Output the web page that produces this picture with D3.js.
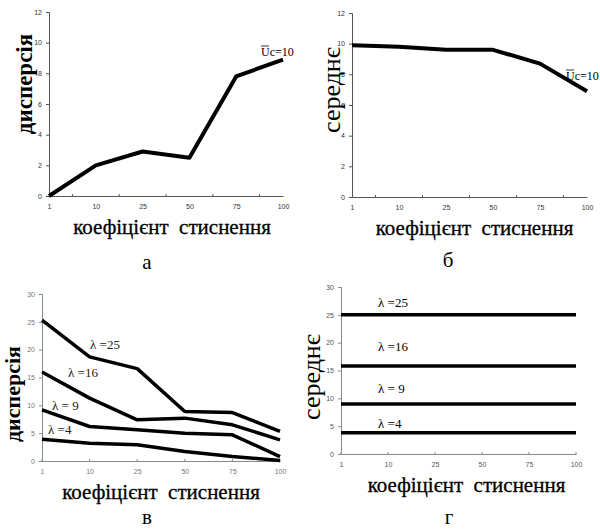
<!DOCTYPE html>
<html>
<head>
<meta charset="utf-8">
<script src="https://cdn.jsdelivr.net/npm/d3@7"></script>
<style>
  body { margin: 0; background: #fff; }
</style>
</head>
<body>
<div id="chart"></div>
<script>
// categories on the x axis (compression factor)
const categories = ['1', '10', '25', '50', '75', '100'];

// panel a: variance, Uc = 10
const varianceA = [0, 2.0, 2.9, 2.5, 7.8, 8.9];
// panel б: mean, Uc = 10
const meanB = [9.9, 9.8, 9.6, 9.6, 8.7, 6.9];

// panel в: variance for each lambda
const lambdas = ['25', '16', '9', '4'];
const varianceC = [
  [25.3, 18.7, 16.6, 8.9, 8.7, 5.3],
  [16.0, 11.3, 7.4, 7.7, 6.5, 3.8],
  [9.2, 6.2, 5.6, 5.0, 4.7, 0.8],
  [3.9, 3.2, 2.9, 1.7, 0.8, 0.1]
];
// panel г: mean for each lambda
const meanD = [
  [25, 25, 25, 25, 25, 25],
  [15.8, 15.8, 15.8, 15.8, 15.8, 15.8],
  [9, 9, 9, 9, 9, 9],
  [3.8, 3.8, 3.8, 3.8, 3.8, 3.8]
];

const yTicksSmall = [0, 2, 4, 6, 8, 10, 12];
const yTicksBig = [0, 5, 10, 15, 20, 25, 30];

const SERIF = '"Liberation Serif"';
const SANS = '"Liberation Sans"';

const svg = d3.select('#chart').append('svg')
  .attr('width', 600)
  .attr('height', 531);

function panel(opts) {
  const g = svg.append('g');
  const x = d3.scalePoint().domain(categories).range([opts.x0, opts.x1]);
  const y = d3.scaleLinear().domain([0, opts.yMax]).range([opts.y0, opts.y1]);

  // x axis
  const xAxis = g.append('g')
    .attr('transform', `translate(0,${opts.y0})`)
    .call(d3.axisBottom(x).tickSize(0).tickPadding(8));
  xAxis.select('.domain').attr('stroke', opts.axisColor);

  // small tick marks, either between categories or on them
  const step = x.step();
  const tickPos = opts.midTicks
    ? categories.slice(0, -1).map((c) => x(c) + step / 2)
    : categories.map((c) => x(c));
  g.selectAll('.xt').data(tickPos).enter().append('line')
    .attr('x1', (d) => d).attr('x2', (d) => d)
    .attr('y1', opts.y0 - 2).attr('y2', opts.y0 + 1)
    .attr('stroke', opts.axisColor);

  // y axis
  const yAxis = g.append('g')
    .attr('transform', `translate(${opts.x0},0)`)
    .call(d3.axisLeft(y).tickValues(opts.yTicks).tickSize(3).tickPadding(4));
  yAxis.select('.domain').attr('stroke', opts.axisColor);
  yAxis.selectAll('.tick line').attr('stroke', opts.axisColor);
  g.selectAll('.tick text')
    .attr('fill', opts.tickColor)
    .attr('font-family', SANS)
    .attr('font-size', 7);

  const line = d3.line()
    .x((d, i) => x(categories[i]))
    .y((d) => y(d));

  g.selectAll('.series').data(opts.series).enter().append('path')
    .attr('d', line)
    .attr('fill', 'none')
    .attr('stroke', '#000')
    .attr('stroke-width', opts.lineWidth)
    .attr('stroke-linejoin', 'round');

  // axis titles
  g.append('text')
    .attr('x', (opts.x0 + opts.x1) / 2 + opts.xTitleDx)
    .attr('y', opts.y0 + 38)
    .attr('text-anchor', 'middle')
    .attr('font-family', SERIF)
    .attr('font-size', 21)
    .attr('stroke', '#000')
    .attr('stroke-width', 0.3)
    .attr('xml:space', 'preserve')
    .text('коефіцієнт  стиснення');

  g.append('text')
    .attr('transform', `translate(${opts.yTitleX},${opts.yTitleY}) rotate(-90)`)
    .attr('text-anchor', 'middle')
    .attr('font-family', SERIF)
    .attr('font-size', opts.yTitleSize)
    .attr('font-weight', opts.yTitleBold ? 'bold' : 'normal')
    .text(opts.yTitle);

  // panel letter
  g.append('text')
    .attr('x', opts.letterX)
    .attr('y', opts.letterY)
    .attr('text-anchor', 'middle')
    .attr('font-family', SERIF)
    .attr('font-size', 21)
    .text(opts.letter);

  return { g, x, y };
}

function ucLabel(g, x, y) {
  g.append('text')
    .attr('x', x).attr('y', y)
    .attr('font-family', SERIF)
    .attr('font-size', 12)
    .text('Uc=10');
  g.append('line')
    .attr('x1', x).attr('x2', x + 8).attr('y1', y - 10).attr('y2', y - 10)
    .attr('stroke', '#000').attr('stroke-width', 0.8);
}

// --- panel а
const pa = panel({
  x0: 49, x1: 283, y0: 196, y1: 12, yMax: 12, yTicks: yTicksSmall,
  series: [varianceA], lineWidth: 4, midTicks: true,
  axisColor: '#555', tickColor: '#333',
  yTitle: 'дисперсія', yTitleX: 32, yTitleY: 84, yTitleSize: 23, yTitleBold: true,
  xTitleDx: 6, letter: 'а', letterX: 147, letterY: 269
});
ucLabel(pa.g, 261, 56);

// --- panel б
const pb = panel({
  x0: 352, x1: 587, y0: 197, y1: 13, yMax: 12, yTicks: yTicksSmall,
  series: [meanB], lineWidth: 4, midTicks: true,
  axisColor: '#555', tickColor: '#333',
  yTitle: 'середнє', yTitleX: 340, yTitleY: 90, yTitleSize: 26, yTitleBold: false,
  xTitleDx: 5, letter: 'б', letterX: 448, letterY: 267
});
ucLabel(pb.g, 566, 80);

// --- panel в
const pc = panel({
  x0: 42, x1: 280, y0: 461, y1: 294, yMax: 30, yTicks: yTicksBig,
  series: varianceC, lineWidth: 3.5, midTicks: false,
  axisColor: '#888', tickColor: '#777',
  yTitle: 'дисперсія', yTitleX: 20, yTitleY: 394, yTitleSize: 22, yTitleBold: true,
  xTitleDx: 0, letter: 'в', letterX: 147, letterY: 524
});
const cLabelPos = [[90, 349], [68, 377], [52, 410], [48, 434]];
pc.g.selectAll('.lam').data(lambdas).enter().append('text')
  .attr('x', (d, i) => cLabelPos[i][0])
  .attr('y', (d, i) => cLabelPos[i][1])
  .attr('font-family', SERIF)
  .attr('font-size', 13)
  .attr('fill', '#222')
  .text((d) => (d === '9' ? 'λ = 9' : 'λ =' + d));

// --- panel г
const pd = panel({
  x0: 341, x1: 576, y0: 454, y1: 287, yMax: 30, yTicks: yTicksBig,
  series: meanD, lineWidth: 3.5, midTicks: false,
  axisColor: '#888', tickColor: '#555',
  yTitle: 'середнє', yTitleX: 320, yTitleY: 377, yTitleSize: 26, yTitleBold: false,
  xTitleDx: 8, letter: 'г', letterX: 449, letterY: 524
});
const dLabelY = [307, 351, 393, 428];
pd.g.selectAll('.lam').data(lambdas).enter().append('text')
  .attr('x', 378)
  .attr('y', (d, i) => dLabelY[i])
  .attr('font-family', SERIF)
  .attr('font-size', 13)
  .text((d) => (d === '9' ? 'λ = 9' : 'λ =' + d));
</script>
</body>
</html>
